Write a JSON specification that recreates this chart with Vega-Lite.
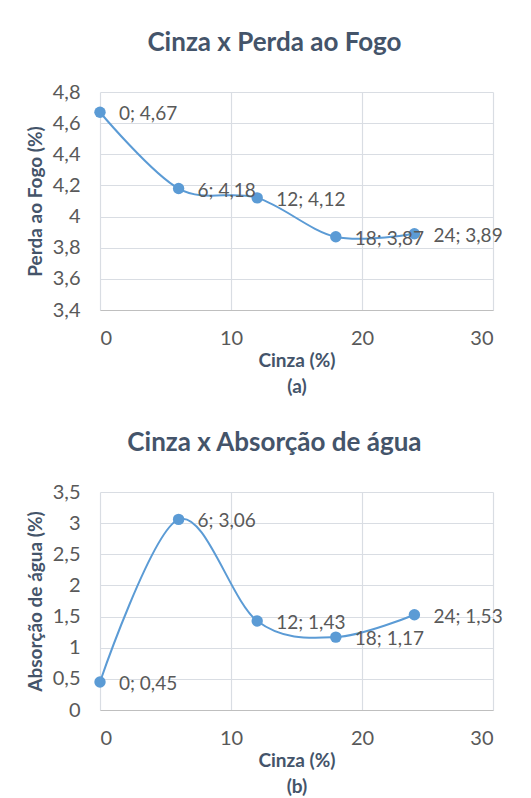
{
  "$schema": "https://vega.github.io/schema/vega-lite/v6.json",
  "padding": {"left": 26, "top": 30, "right": 0, "bottom": 4},
  "background": "white",
  "config": {
    "locale": {"number": {"decimal": ",", "thousands": ".", "grouping": [3], "currency": ["", " €"]}},
    "font": "Lato",
    "view": {"stroke": null},
    "axis": {
      "labelFont": "Lato", "labelFontSize": 20, "labelColor": "#595959",
      "titleFont": "Lato", "titleFontSize": 19, "titleFontWeight": "bold", "titleColor": "#44546A",
      "gridColor": "#D9DDE3", "gridWidth": 1.2, "tickSize": 0, "domain": false
    },
    "title": {"font": "Lato", "fontSize": 26, "fontWeight": "bold", "color": "#44546A"},
    "concat": {"spacing": 34}
  },
  "datasets": {
    "perda": [
      {"cinza": 0, "valor": 4.67, "rotulo": "0; 4,67"},
      {"cinza": 6, "valor": 4.18, "rotulo": "6; 4,18"},
      {"cinza": 12, "valor": 4.12, "rotulo": "12; 4,12"},
      {"cinza": 18, "valor": 3.87, "rotulo": "18; 3,87"},
      {"cinza": 24, "valor": 3.89, "rotulo": "24; 3,89"}
    ],
    "absorcao": [
      {"cinza": 0, "valor": 0.45, "rotulo": "0; 0,45"},
      {"cinza": 6, "valor": 3.06, "rotulo": "6; 3,06"},
      {"cinza": 12, "valor": 1.43, "rotulo": "12; 1,43"},
      {"cinza": 18, "valor": 1.17, "rotulo": "18; 1,17"},
      {"cinza": 24, "valor": 1.53, "rotulo": "24; 1,53"}
    ]
  },
  "vconcat": [
    {
      "title": {"text": "Cinza x Perda ao Fogo", "anchor": "middle", "frame": "bounds", "offset": 26, "dx": 10},
      "width": 393,
      "height": 218,
      "data": {"name": "perda"},
      "encoding": {
        "x": {"field": "cinza", "type": "quantitative",
              "scale": {"domain": [0, 30], "nice": false},
              "axis": {"values": [0, 10, 20, 30], "labelPadding": 18, "title": ["Cinza (%)", "(a)"], "titlePadding": 3, "titleLineHeight": 26, "domain": true, "domainColor": "#BFBFBF", "domainWidth": 1.2}},
        "y": {"field": "valor", "type": "quantitative",
              "scale": {"domain": [3.4, 4.8], "nice": false, "zero": false},
              "axis": {"values": [3.4, 3.6, 3.8, 4.0, 4.2, 4.4, 4.6, 4.8], "format": ".1~f", "labelPadding": 20, "title": "Perda ao Fogo (%)", "titlePadding": 7}}
      },
      "layer": [
        {"mark": {"type": "line", "interpolate": "cardinal", "color": "#5B9BD5", "strokeWidth": 2}},
        {"mark": {"type": "circle", "color": "#5B9BD5", "opacity": 1, "size": 130}},
        {"mark": {"type": "text", "align": "left", "baseline": "middle", "dx": 19, "dy": 2, "fontSize": 19, "color": "#595959", "font": "Lato"},
         "encoding": {"text": {"field": "rotulo", "type": "nominal"}}}
      ]
    },
    {
      "title": {"text": "Cinza x Absorção de água", "anchor": "middle", "frame": "bounds", "offset": 26, "dx": 10},
      "width": 393,
      "height": 218,
      "data": {"name": "absorcao"},
      "encoding": {
        "x": {"field": "cinza", "type": "quantitative",
              "scale": {"domain": [0, 30], "nice": false},
              "axis": {"values": [0, 10, 20, 30], "labelPadding": 18, "title": ["Cinza (%)", "(b)"], "titlePadding": 3, "titleLineHeight": 26, "domain": true, "domainColor": "#BFBFBF", "domainWidth": 1.2}},
        "y": {"field": "valor", "type": "quantitative",
              "scale": {"domain": [0, 3.5], "nice": false},
              "axis": {"values": [0, 0.5, 1, 1.5, 2, 2.5, 3, 3.5], "format": ".1~f", "labelPadding": 20, "title": "Absorção de água (%)", "titlePadding": 7}}
      },
      "layer": [
        {"mark": {"type": "line", "interpolate": "cardinal", "color": "#5B9BD5", "strokeWidth": 2}},
        {"mark": {"type": "circle", "color": "#5B9BD5", "opacity": 1, "size": 130}},
        {"mark": {"type": "text", "align": "left", "baseline": "middle", "dx": 19, "dy": 2, "fontSize": 19, "color": "#595959", "font": "Lato"},
         "encoding": {"text": {"field": "rotulo", "type": "nominal"}}}
      ]
    }
  ]
}
